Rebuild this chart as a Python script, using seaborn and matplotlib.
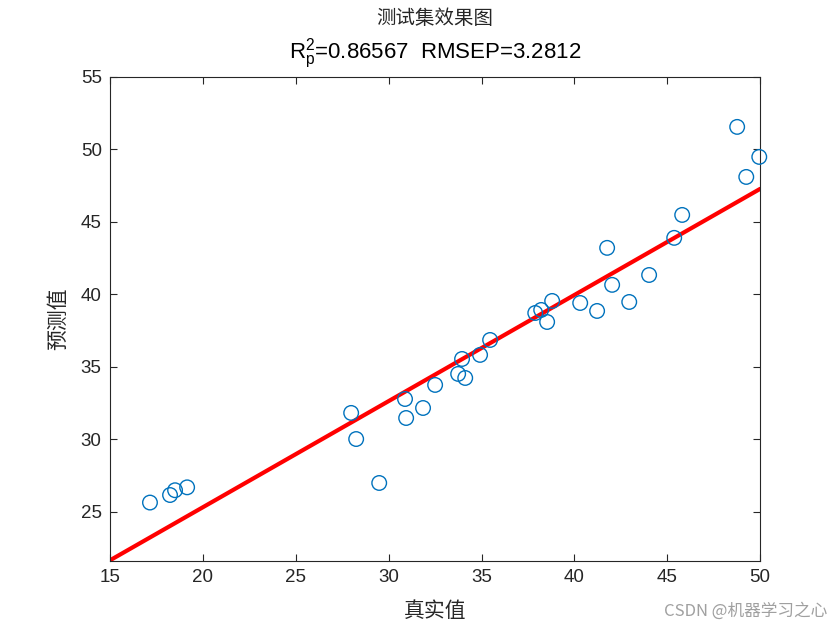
import numpy as np
import pandas as pd
import matplotlib
matplotlib.use("Agg")
import matplotlib.pyplot as plt
import seaborn as sns

true_vals = [17.15, 18.23, 18.5, 19.15, 27.98, 28.25, 29.49, 30.88, 30.94, 31.85,
             32.5, 33.74, 33.95, 34.12, 34.92, 35.46, 37.89, 38.21, 38.53, 38.80,
             40.31, 41.22, 41.76, 42.03, 42.95, 44.02, 45.37, 45.80, 48.76, 49.25, 49.95]
pred_vals = [25.65, 26.17, 26.5, 26.7, 31.83, 30.03, 27.0, 32.79, 31.48, 32.17,
             33.76, 34.52, 35.55, 34.24, 35.83, 36.86, 38.72, 38.93, 38.1, 39.55,
             39.41, 38.86, 43.21, 40.66, 39.48, 41.34, 43.9, 45.48, 51.55, 48.1, 49.48]
x_ticks = [15, 20, 25, 30, 35, 40, 45, 50]
y_ticks = [25, 30, 35, 40, 45, 50, 55]
title_cn = "测试集效果图"
title_stats = r"$\mathregular{R_p^2}$=0.86567  RMSEP=3.2812"
xlabel = "真实值"
ylabel = "预测值"
watermark = "CSDN @机器学习之心"

df = pd.DataFrame({"true": true_vals, "pred": pred_vals})

sns.set_style("white")
plt.rcParams["font.family"] = ["Liberation Sans", "Noto Sans CJK SC", "DejaVu Sans"]
plt.rcParams["mathtext.fontset"] = "custom"
plt.rcParams["mathtext.rm"] = "Liberation Sans"

fig = plt.figure(figsize=(8.4, 6.3), dpi=100)
ax = fig.add_axes([0.131, 0.1095, 0.774, 0.7685])
ax.set_xlim(15, 50)
ax.set_ylim(21.62, 55)

sns.scatterplot(data=df, x="true", y="pred", ax=ax, marker="o", s=110,
                facecolors="none", edgecolor="#0072BD", linewidth=1.0, zorder=3,
                clip_on=False)
sns.regplot(data=df, x="true", y="pred", ax=ax, scatter=False, ci=None,
            truncate=False, color="red", line_kws={"linewidth": 3.0, "zorder": 2})
ax.set_xlim(15, 50)
ax.set_ylim(21.62, 55)

ax.set_xticks(x_ticks)
ax.set_yticks(y_ticks)
ax.tick_params(direction="in", length=5, width=0.8, labelsize=13.5, colors="#262626",
               top=True, right=True, bottom=True, left=True, pad=6)
for sp in ax.spines.values():
    sp.set_color("#262626")
    sp.set_linewidth(0.8)

cjk = ["Noto Sans CJK SC", "DejaVu Sans"]
ax.set_xlabel(xlabel, fontsize=15, family=cjk, color="#262626", labelpad=10)
ax.set_ylabel(ylabel, fontsize=15, family=cjk, color="#262626", labelpad=8)
fig.text(0.518, 0.970, title_cn, ha="center", va="center", fontsize=14, family=cjk, color="#262626")
fig.text(0.518, 0.915, title_stats, ha="center", va="center", fontsize=16, color="black")
fig.text(0.985, 0.03, watermark, ha="right", va="center", fontsize=12, family=cjk,
         color="#a0a0a0")

fig.savefig("out.png", dpi=100, facecolor="white")
